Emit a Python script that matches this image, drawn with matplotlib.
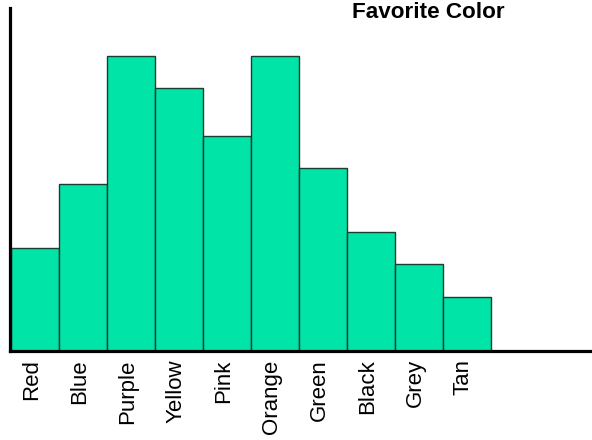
import matplotlib
matplotlib.use("Agg")
import matplotlib.pyplot as plt
import numpy as np

plt.rcParams['font.family'] = ['Liberation Sans', 'DejaVu Sans']

# data
colors = ['Red', 'Blue', 'Purple', 'Yellow', 'Pink',
          'Orange', 'Green', 'Black', 'Grey', 'Tan']
votes = [6.4, 10.4, 18.4, 16.4, 13.4, 18.4, 11.4, 7.4, 5.4, 3.4]
title = 'Favorite Color'

W, H = 592, 440
fig = plt.figure(figsize=(W / 100, H / 100), dpi=100)
ax = fig.add_axes([9.5 / W, (H - 351) / H, (W - 9.5) / W, (351 - 8) / H])

x = np.arange(len(colors))
ax.bar(x, votes, width=1.0, color='#00e4a8', edgecolor='#1f3a30',
       linewidth=1.0, zorder=2)

ax.set_xlim(-0.54, 11.6)
ax.set_ylim(0, 21.4)

ax.set_xticks(x - 0.08)
ax.set_xticklabels(colors, rotation=90, fontsize=16)
ax.tick_params(axis='x', length=0, pad=6)
ax.set_yticks([])

for side in ['top', 'right']:
    ax.spines[side].set_visible(False)
for side in ['left', 'bottom']:
    ax.spines[side].set_linewidth(2.3)
    ax.spines[side].set_zorder(3)

# title sits tight against the top edge, as in the reference
fig.text(352 / W, 1 - 18 / H, title, ha='left', va='baseline',
         fontsize=16.2, fontweight='bold')

fig.savefig('out.png', dpi=100)
